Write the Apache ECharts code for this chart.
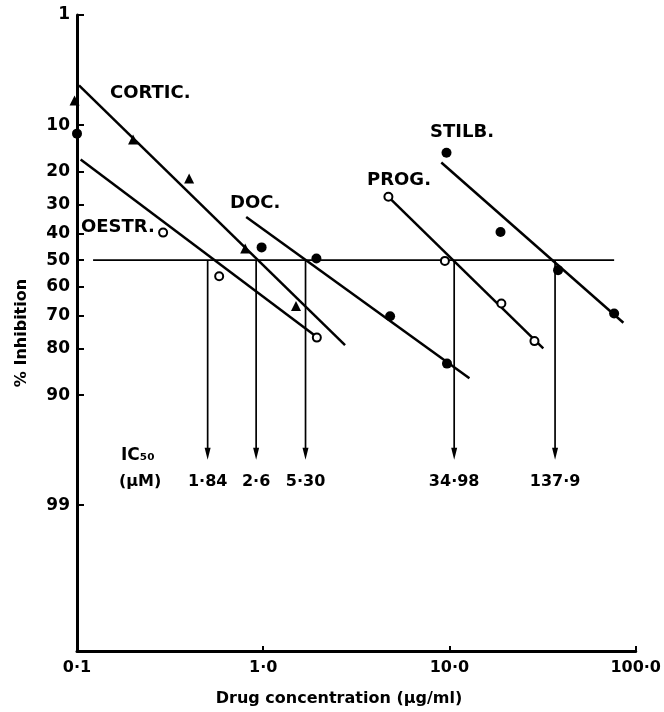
<!DOCTYPE html>
<html>
<head>
<meta charset="utf-8">
<script src="https://cdn.jsdelivr.net/npm/echarts@6/dist/echarts.min.js"></script>
<style>
html,body{margin:0;padding:0;background:#fff;}
#chart{width:664px;height:712px;}
</style>
</head>
<body>
<div id="chart"></div>
<script>
// ---- data ----
const yTickPercents = [1, 10, 20, 30, 40, 50, 60, 70, 80, 90, 99];
const xTickValues = [0.1, 1, 10, 100];
const xTickLabels = ['0·1', '1·0', '10·0', '100·0'];

// observed points [concentration µg/ml, % inhibition]
const corticPts = [[0.097, 6.5], [0.2, 12.6], [0.4, 21.9], [0.8, 45.6], [1.5, 66.8]];
const oestrPts = [[0.29, 39.7], [0.58, 56.1], [1.94, 76.9]];
const docPts = [[0.98, 45.2], [1.93, 49.4], [4.8, 70.3], [9.7, 83.7]];
const extraFilledPts = [[0.1, 11.5]];
const progPts = [[4.7, 27.4], [9.45, 50.3], [19, 66.0], [28.6, 77.9]];
const stilbPts = [[9.64, 15.4], [18.8, 39.5], [38.3, 53.8], [76.6, 69.4]];

// fitted line end points
const corticLine = [[0.1025, 4.86], [2.75, 79.0]];
const oestrLine = [[0.1046, 17.0], [1.94, 76.7]];
const docLine = [[0.81, 34.1], [12.8, 86.9]];
const progLine = [[4.70, 27.4], [31.9, 79.9]];
const stilbLine = [[9.04, 17.7], [85.9, 72.4]];
const fiftyLine = [[0.122, 50], [76.6, 50]];

// IC50 arrows
const ic50X = [0.503, 0.916, 1.687, 10.6, 36.9];
const ic50Labels = ['1·84', '2·6', '5·30', '34·98', '137·9'];
const arrowStartPct = 50;
const arrowEndPct = 96.7;

// ---- probit transform ----
function probit(p) {
  const a = [-3.969683028665376e+01, 2.209460984245205e+02, -2.759285104469687e+02, 1.383577518672690e+02, -3.066479806614716e+01, 2.506628277459239e+00];
  const b = [-5.447609879822406e+01, 1.615858368580409e+02, -1.556989798598866e+02, 6.680131188771972e+01, -1.328068155288572e+01];
  const c = [-7.784894002430293e-03, -3.223964580411365e-01, -2.400758277161838e+00, -2.549732539343734e+00, 4.374664141464968e+00, 2.938163982698783e+00];
  const d = [7.784695709041462e-03, 3.224671290700398e-01, 2.445134137142996e+00, 3.754408661907416e+00];
  const pl = 0.02425, ph = 1 - pl;
  let q, r;
  if (p < pl) {
    q = Math.sqrt(-2 * Math.log(p));
    return (((((c[0]*q+c[1])*q+c[2])*q+c[3])*q+c[4])*q+c[5]) / ((((d[0]*q+d[1])*q+d[2])*q+d[3])*q+1);
  }
  if (p <= ph) {
    q = p - 0.5; r = q * q;
    return (((((a[0]*r+a[1])*r+a[2])*r+a[3])*r+a[4])*r+a[5])*q / (((((b[0]*r+b[1])*r+b[2])*r+b[3])*r+b[4])*r+1);
  }
  q = Math.sqrt(-2 * Math.log(1 - p));
  return -(((((c[0]*q+c[1])*q+c[2])*q+c[3])*q+c[4])*q+c[5]) / ((((d[0]*q+d[1])*q+d[2])*q+d[3])*q+1);
}
const Y = pct => probit(pct / 100);
const toXY = arr => arr.map(d => [d[0], Y(d[1])]);

const yTickPos = yTickPercents.map(Y);
const FONT = 'DejaVu Sans';

const chart = echarts.init(document.getElementById('chart'), null, {renderer: 'canvas'});

const lineStyleMain = {color: '#000', width: 2.5};
function fitLine(data) {
  return {type: 'line', data: toXY(data), showSymbol: false, symbol: 'none',
    lineStyle: lineStyleMain, z: 2, silent: true, animation: false};
}
function pts(data, kind) {
  const s = {type: 'scatter', data: toXY(data), z: 5, silent: true, animation: false, clip: false};
  if (kind === 'tri') { s.symbol = 'triangle'; s.symbolSize = 10; s.itemStyle = {color: '#000', opacity: 1}; }
  if (kind === 'filled') { s.symbol = 'circle'; s.symbolSize = 10; s.itemStyle = {color: '#000', opacity: 1}; }
  if (kind === 'open') { s.symbol = 'circle'; s.symbolSize = 8; s.itemStyle = {color: '#fff', borderColor: '#000', borderWidth: 2, opacity: 1}; }
  return s;
}

const arrowSeries = ic50X.map((x, i) => ({
  type: 'line', silent: true, animation: false, z: 3,
  lineStyle: {color: '#000', width: 1.7},
  itemStyle: {color: '#000', opacity: 1},
  data: [
    {value: [x, Y(arrowStartPct)], symbol: 'none'},
    {value: [x, Y(arrowEndPct)], symbol: 'triangle', symbolSize: [6, 12], symbolRotate: 180,
     label: {show: true, position: 'bottom', distance: 14, formatter: ic50Labels[i],
       fontFamily: FONT, fontWeight: 'bold', fontSize: 16, color: '#000'}}
  ]
}));

const textStyle = (t, x, y, size, align) => ({
  type: 'text', x: x, y: y, silent: true,
  style: {text: t, fontFamily: FONT, fontWeight: 'bold', fontSize: size, fill: '#000',
    textAlign: align || 'left', textVerticalAlign: 'middle'}
});

const option = {
  backgroundColor: '#fff',
  animation: false,
  grid: {left: 77, right: 22, top: 15, bottom: 61, containLabel: false},
  xAxis: {
    type: 'log', logBase: 10, min: 0.1, max: 100,
    axisLine: {show: true, onZero: false, lineStyle: {color: '#000', width: 3}},
    axisTick: {show: true, inside: true, length: 5, lineStyle: {color: '#000', width: 2}},
    minorTick: {show: false},
    splitLine: {show: false},
    axisLabel: {
      margin: 9, color: '#000', fontFamily: FONT, fontWeight: 'bold', fontSize: 16,
      formatter: function (v) {
        let best = 0;
        xTickValues.forEach((t, i) => { if (Math.abs(Math.log10(v) - Math.log10(t)) < Math.abs(Math.log10(v) - Math.log10(xTickValues[best]))) best = i; });
        return xTickLabels[best];
      }
    }
  },
  yAxis: {
    type: 'value', inverse: true, min: Y(1), max: 3.71,
    axisLine: {show: true, onZero: false, lineStyle: {color: '#000', width: 3}},
    axisTick: {show: true, inside: true, length: 7, customValues: yTickPos, lineStyle: {color: '#000', width: 2}},
    splitLine: {show: false},
    axisLabel: {
      customValues: yTickPos, margin: 7, color: '#000', fontFamily: FONT, fontWeight: 'bold', fontSize: 17,
      formatter: function (v) {
        let best = 0;
        yTickPos.forEach((t, i) => { if (Math.abs(v - t) < Math.abs(v - yTickPos[best])) best = i; });
        return String(yTickPercents[best]);
      }
    }
  },
  series: [
    fitLine(corticLine), fitLine(oestrLine), fitLine(docLine), fitLine(progLine), fitLine(stilbLine),
    {type: 'line', data: toXY(fiftyLine), symbol: 'none', showSymbol: false, silent: true, animation: false,
     lineStyle: {color: '#000', width: 1.7}, z: 2},
    ...arrowSeries,
    pts(corticPts, 'tri'), pts(oestrPts, 'open'), pts(docPts, 'filled'), pts(extraFilledPts, 'filled'),
    pts(progPts, 'open'), pts(stilbPts, 'filled')
  ],
  graphic: [
    textStyle('CORTIC.', 110, 93, 18),
    textStyle('OESTR.', 81, 227, 18),
    textStyle('DOC.', 230, 203, 18),
    textStyle('PROG.', 367, 180, 18),
    textStyle('STILB.', 430, 132, 18),
    textStyle('IC₅₀', 121, 456, 17),
    textStyle('(µM)', 119, 482, 16),
    textStyle('Drug concentration (µg/ml)', 339, 699, 16, 'center'),
    {type: 'text', x: 22, y: 333, rotation: Math.PI / 2, silent: true,
     style: {text: '% Inhibition', fontFamily: FONT, fontWeight: 'bold', fontSize: 16, fill: '#000',
       textAlign: 'center', textVerticalAlign: 'middle'}}
  ]
};
chart.setOption(option);
</script>
</body>
</html>
